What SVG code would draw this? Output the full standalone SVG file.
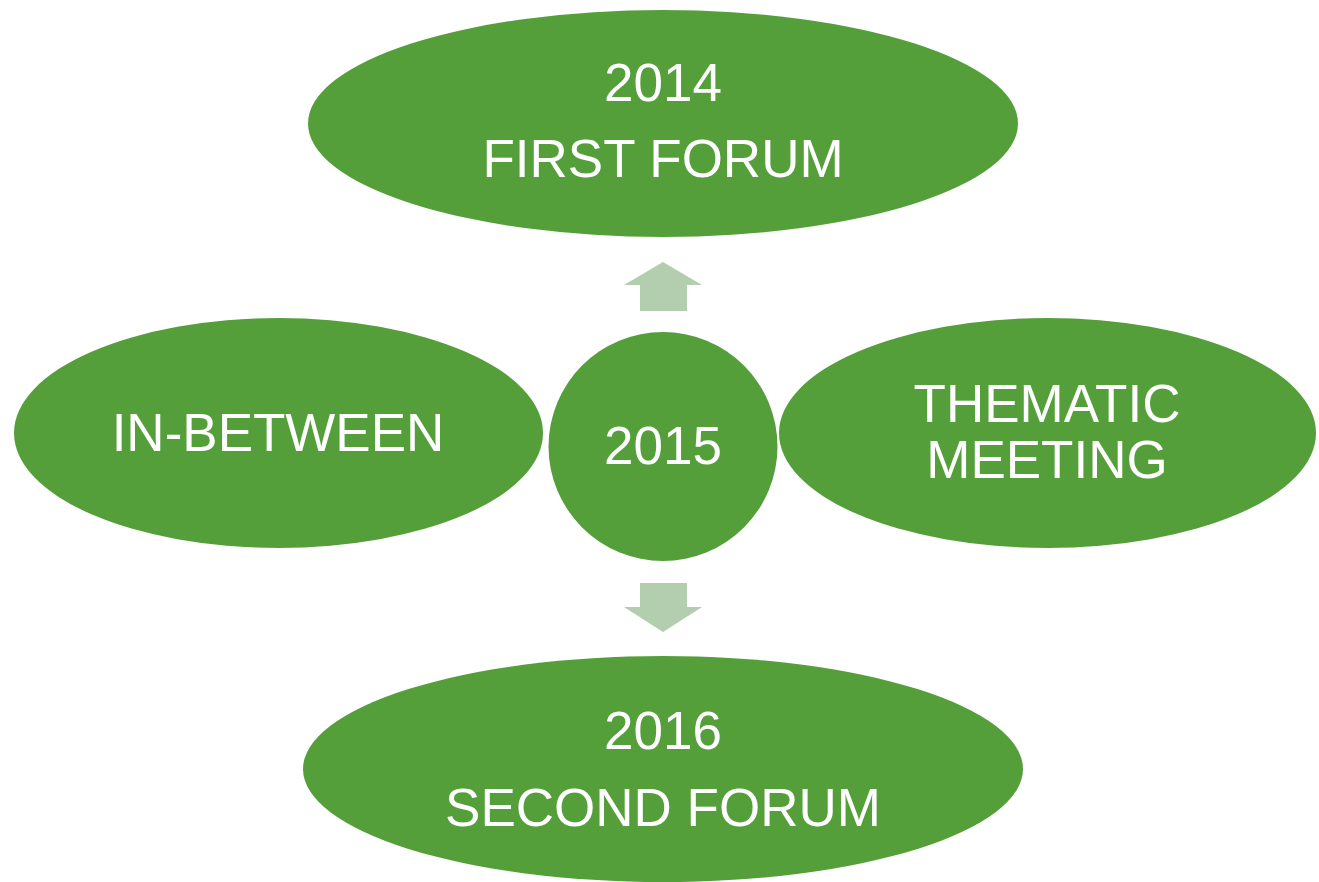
<svg xmlns="http://www.w3.org/2000/svg" width="1319" height="882" viewBox="0 0 1319 882">
<style>
.n{fill:#559F3B}
.a{fill:#B3CDAF}
.t{fill:#FFFFFF;font-family:"Liberation Sans",Arial,sans-serif;font-size:53px;text-anchor:middle}
</style>
<rect width="1319" height="882" fill="#FFFFFF"/>
<g id="connectors">
<polygon class="a" points="663,262 702,285 687,285 687,311 640,311 640,285 624,285"/>
<polygon class="a" points="640,583 687,583 687,607 702,607 663,632 624,607 640,607"/>
</g>
<g id="node-first-forum">
<ellipse class="n" cx="663" cy="123.5" rx="355" ry="113.5"/>
<text class="t" x="663" y="101">2014</text>
<text class="t" x="663" y="177">FIRST FORUM</text>
</g>
<g id="node-in-between">
<ellipse class="n" cx="278.5" cy="433" rx="264.5" ry="115"/>
<text class="t" x="278" y="451">IN-BETWEEN</text>
</g>
<g id="node-thematic">
<ellipse class="n" cx="1047.5" cy="433" rx="268.5" ry="115"/>
<text class="t" x="1047" y="422">THEMATIC</text>
<text class="t" x="1047" y="478">MEETING</text>
</g>
<g id="node-2015">
<circle class="n" cx="663" cy="446.5" r="114.5"/>
<text class="t" x="663" y="464">2015</text>
</g>
<g id="node-second-forum">
<ellipse class="n" cx="663" cy="769" rx="360" ry="113"/>
<text class="t" x="663" y="749">2016</text>
<text class="t" x="663" y="826">SECOND FORUM</text>
</g>
</svg>
